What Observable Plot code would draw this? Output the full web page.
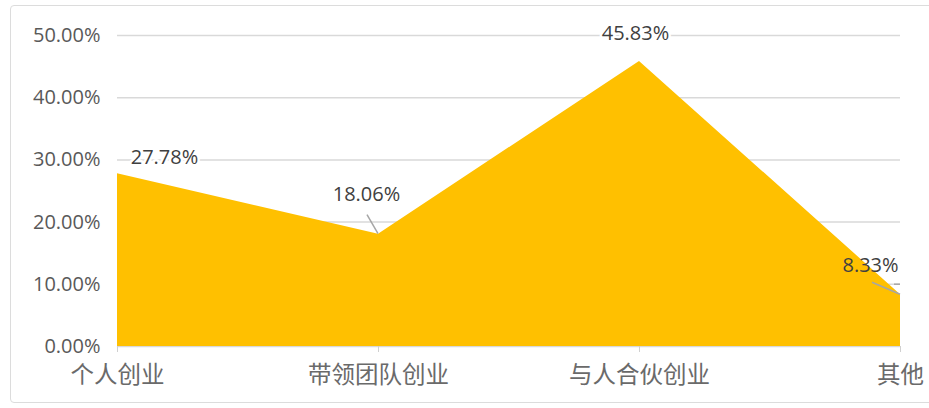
<!DOCTYPE html>
<html>
<head>
<meta charset="utf-8">
<script src="https://cdn.jsdelivr.net/npm/d3@7"></script>
<script src="https://cdn.jsdelivr.net/npm/@observablehq/plot@0.6"></script>
<style>
  html, body { margin: 0; padding: 0; background: #fff; }
  #wrap { position: relative; width: 929px; height: 408px; overflow: hidden; }
  #border { position: absolute; left: 10px; top: 5px; width: 930px; height: 396px;
            border: 1.5px solid #dcdcdc; border-radius: 4px; pointer-events: none; }
  svg { font-family: "Open Sans", "Noto Sans CJK SC", sans-serif; }
</style>
</head>
<body>
<div id="wrap"><div id="border"></div></div>
<script>
const categories = ["个人创业", "带领团队创业", "与人合伙创业", "其他"];
const values = [0.2778, 0.1806, 0.4583, 0.0833];
const yTicks = [0, 0.1, 0.2, 0.3, 0.4, 0.5];

const data = categories.map((c, i) => ({category: c, value: values[i]}));
const fmt = v => (v * 100).toFixed(2) + "%";

// label placement (styling, not data)
const labelOffsets = [[47, -16], [-12, -40], [-4, -28], [-30, -29]];
const labelHalo = [true, true, true, false];

const labelMarks = data.map((d, i) =>
  Plot.text([d], {
    x: "category", y: "value", text: d => fmt(d.value),
    dx: labelOffsets[i][0], dy: labelOffsets[i][1],
    fill: "#404040", fontSize: 20,
    stroke: labelHalo[i] ? "white" : "none", strokeWidth: 5, paintOrder: "stroke",
    fontFamily: "Open Sans"
  })
);

// leader lines for labels 2 and 4
function leaders(index, scales) {
  const g = d3.create("svg:g").attr("stroke", "#a6a6a6").attr("stroke-width", 1.5).attr("fill", "none");
  const x = scales.x, y = scales.y;
  const p1 = [x(categories[1]), y(values[1])];
  g.append("path").attr("d", `M${p1[0] - 11},${p1[1] - 19}L${p1[0]},${p1[1]}`);
  const p3 = [x(categories[3]), y(values[3])];
  g.append("path").attr("d", `M${p3[0] - 28},${p3[1] - 12}L${p3[0]},${p3[1]}`);
  g.append("path").attr("d", `M${p3[0] - 6},${p3[1] - 10}L${p3[0]},${p3[1] - 10}`);
  return g.node();
}

const chart = Plot.plot({
  width: 929,
  height: 408,
  marginLeft: 117,
  marginRight: 29,
  marginTop: 35,
  marginBottom: 62,
  style: {background: "transparent", fontFamily: "Open Sans, Noto Sans CJK SC, sans-serif"},
  x: {type: "point", domain: categories, padding: 0, label: null},
  y: {domain: [0, 0.5], label: null},
  marks: [
    Plot.gridY(yTicks, {stroke: "#d9d9d9", strokeOpacity: 1, strokeWidth: 1.5}),
    Plot.areaY(data, {x: "category", y: "value", fill: "#FFC000", curve: "linear"}),
    Plot.axisY(yTicks, {tickSize: 0, tickPadding: 17, tickFormat: fmt, fontSize: 20, fill: "#595959", fontFamily: "Open Sans"}),
    Plot.axisX({tickSize: 6, tickPadding: 14, stroke: "#d0d0d0", fontSize: 23.5, fill: "#6a6a6a", fontFamily: "Noto Sans CJK SC"}),
    leaders,
    ...labelMarks
  ]
});
document.getElementById("wrap").prepend(chart);
</script>
</body>
</html>
